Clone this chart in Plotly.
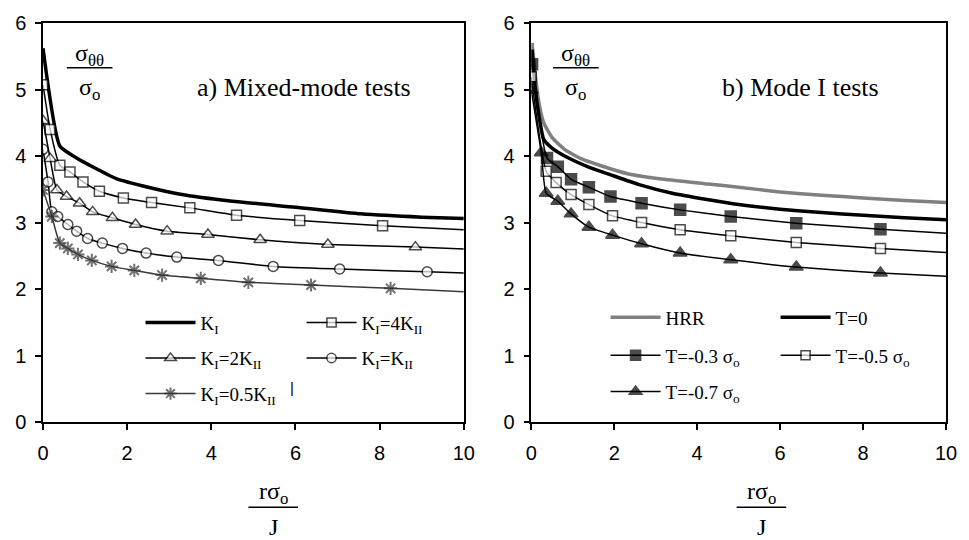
import plotly.graph_objects as go

# ---------------- data: panel a) mixed-mode tests ----------------
ki_x = [0, 0.4, 0.8, 1.2, 1.74, 2.5, 3.23, 4.5, 6, 7.55, 9, 10]
ki_y = [5.62, 4.15, 3.97, 3.83, 3.66, 3.53, 3.43, 3.32, 3.23, 3.13, 3.08, 3.06]

k4_x = [0, 0.17, 0.4, 0.64, 0.95, 1.34, 1.91, 2.58, 3.49, 4.6, 6.1, 8.07]
k4_y = [5.07, 4.4, 3.86, 3.76, 3.61, 3.47, 3.37, 3.30, 3.22, 3.11, 3.03, 2.95]
k4_end = 2.89

k2_x = [0, 0.17, 0.33, 0.56, 0.87, 1.18, 1.65, 2.2, 2.95, 3.92, 5.16, 6.77, 8.85]
k2_y = [4.53, 3.96, 3.49, 3.39, 3.29, 3.16, 3.07, 2.97, 2.87, 2.82, 2.74, 2.67, 2.63]
k2_end = 2.6

k1_x = [0, 0.12, 0.21, 0.35, 0.59, 0.8, 1.06, 1.41, 1.89, 2.45, 3.18, 4.17, 5.47, 7.05, 9.13]
k1_y = [4.1, 3.61, 3.16, 3.09, 2.97, 2.87, 2.76, 2.69, 2.61, 2.54, 2.48, 2.43, 2.34, 2.30, 2.26]
k1_end = 2.24

k05_x = [0, 0.21, 0.4, 0.59, 0.83, 1.16, 1.63, 2.17, 2.83, 3.75, 4.88, 6.37, 8.26]
k05_y = [3.49, 3.09, 2.69, 2.61, 2.52, 2.43, 2.34, 2.28, 2.21, 2.16, 2.10, 2.06, 2.01]
k05_end = 1.96

# ---------------- data: panel b) mode I tests ----------------
hrr_x = [0.02, 0.1, 0.2, 0.3, 0.5, 0.8, 1.2, 1.7, 2.35, 3.2, 4.26, 5, 6, 7, 8, 9, 10]
hrr_y = [5.7, 5.2, 4.75, 4.5, 4.28, 4.1, 3.96, 3.85, 3.73, 3.65, 3.58, 3.53, 3.46, 3.41, 3.37, 3.33, 3.3]

t0_x = [0.02, 0.1, 0.2, 0.3, 0.5, 0.9, 1.4, 1.9, 2.6, 3.4, 4.2, 5, 6, 7, 8, 9, 10]
t0_y = [5.6, 5.0, 4.55, 4.25, 4.12, 3.97, 3.83, 3.72, 3.57, 3.44, 3.35, 3.27, 3.2, 3.15, 3.11, 3.07, 3.04]

t03_x = [0.02, 0.38, 0.64, 0.96, 1.39, 1.91, 2.66, 3.59, 4.81, 6.39, 8.42]
t03_y = [5.38, 3.97, 3.84, 3.65, 3.53, 3.39, 3.29, 3.19, 3.09, 2.99, 2.9]
t03_end = 2.84

t05_x = [0, 0.36, 0.6, 0.96, 1.39, 1.96, 2.66, 3.59, 4.81, 6.39, 8.42]
t05_y = [5.19, 3.77, 3.6, 3.42, 3.27, 3.1, 3.0, 2.89, 2.8, 2.7, 2.61]
t05_end = 2.55

t07_x = [0, 0.24, 0.36, 0.64, 0.96, 1.39, 1.96, 2.66, 3.59, 4.81, 6.39, 8.42]
t07_y = [4.99, 4.05, 3.44, 3.32, 3.13, 2.93, 2.81, 2.68, 2.54, 2.44, 2.33, 2.24]
t07_end = 2.19

x_ticks = [0, 2, 4, 6, 8, 10]
y_ticks = [0, 1, 2, 3, 4, 5, 6]
X_END = 10

SERIF = "Liberation Serif, Times New Roman, serif"
SANS = "Liberation Sans, Arial, sans-serif"

fig = go.Figure()


def marked(xs, ys, end, name, sym, fill, lcol, axis, leg, msize=10, mlw=1.5, lw=1.5):
    # markers on the read points, plain line continuing to the axis end
    px_ = list(xs) + [X_END]
    py_ = list(ys) + [end]
    sizes = [msize] * len(xs) + [0]
    fig.add_trace(go.Scatter(
        x=px_, y=py_, mode="lines+markers", name=name,
        line=dict(color=lcol, width=lw, shape="spline", smoothing=0.5),
        marker=dict(symbol=sym, size=sizes, color=fill,
                    line=dict(color=lcol, width=mlw)),
        xaxis=axis[0], yaxis=axis[1], legend=leg))


def plain(xs, ys, name, col, width, axis, leg):
    fig.add_trace(go.Scatter(
        x=xs, y=ys, mode="lines", name=name,
        line=dict(color=col, width=width, shape="spline", smoothing=0.5),
        xaxis=axis[0], yaxis=axis[1], legend=leg))


A = ("x", "y")
B = ("x2", "y2")

plain(ki_x, ki_y, "K<sub>I</sub>", "black", 3.5, A, "legend")
marked(k4_x, k4_y, k4_end, "K<sub>I</sub>=4K<sub>II</sub>", "square", "white", "black", A, "legend")
marked(k2_x, k2_y, k2_end, "K<sub>I</sub>=2K<sub>II</sub>", "triangle-up", "white", "black", A, "legend2", msize=11)
marked(k1_x, k1_y, k1_end, "K<sub>I</sub>=K<sub>II</sub>", "circle", "white", "black", A, "legend2")
marked(k05_x, k05_y, k05_end, "K<sub>I</sub>=0.5K<sub>II</sub>", "asterisk-open", "#333333", "#3a3a3a", A, "legend3", msize=11, mlw=2)

plain(hrr_x, hrr_y, "HRR", "#808080", 3.5, B, "legend4")
plain(t0_x, t0_y, "T=0", "black", 3.5, B, "legend4")
marked(t03_x, t03_y, t03_end, "T=-0.3 σ<sub>o</sub>", "square", "black", "black", B, "legend5", msize=11)
marked(t05_x, t05_y, t05_end, "T=-0.5 σ<sub>o</sub>", "square", "white", "black", B, "legend5")
marked(t07_x, t07_y, t07_end, "T=-0.7 σ<sub>o</sub>", "triangle-up", "black", "black", B, "legend6", msize=12)

axis_common = dict(showline=True, linecolor="black", linewidth=1.5, mirror=True,
                   ticks="outside", ticklen=6, tickwidth=1.5, tickcolor="black",
                   showgrid=False, zeroline=False,
                   tickfont=dict(family=SANS, size=20, color="black"))

fig.update_layout(
    width=969, height=540,
    margin=dict(l=43, r=16, t=20, b=118),
    paper_bgcolor="white", plot_bgcolor="white",
    xaxis=dict(domain=[0, 0.466], range=[0, 10], tickvals=x_ticks, ticklabelstandoff=6, **axis_common),
    yaxis=dict(domain=[0, 1], range=[0, 6], tickvals=y_ticks, ticklabelstandoff=5, **axis_common),
    xaxis2=dict(domain=[0.5407, 1], range=[0, 10], tickvals=x_ticks, anchor="y2", ticklabelstandoff=6, **axis_common),
    yaxis2=dict(domain=[0, 1], range=[0, 6], tickvals=y_ticks, anchor="x2", ticklabelstandoff=5, **axis_common),
)

leg_common = dict(orientation="h", xanchor="left", yanchor="middle",
                  bgcolor="rgba(0,0,0,0)", borderwidth=0, itemwidth=50,
                  font=dict(family=SERIF, size=19, color="black"),
                  entrywidthmode="pixels")
fig.update_layout(
    legend=dict(x=0.108, y=0.249, entrywidth=96, **leg_common),
    legend2=dict(x=0.108, y=0.160, entrywidth=96, **leg_common),
    legend3=dict(x=0.108, y=0.071, entrywidth=96, **leg_common),
    legend4=dict(x=0.623, y=0.262, entrywidth=105, **leg_common),
    legend5=dict(x=0.623, y=0.167, entrywidth=105, **leg_common),
    legend6=dict(x=0.623, y=0.076, entrywidth=105, **leg_common),
)

ann = []
shapes = []

W = 910.0
H = 402.0


def px(xp):
    return (xp - 43) / W


def py(yp):
    return (422 - yp) / H


def frac(xc, y_num, y_den, y_bar, half, num, den, size):
    ann.append(dict(xref="paper", yref="paper", x=xc, y=y_num, text=num, showarrow=False,
                    font=dict(family=SERIF, size=size, color="black"), xanchor="center", yanchor="middle"))
    ann.append(dict(xref="paper", yref="paper", x=xc, y=y_den, text=den, showarrow=False,
                    font=dict(family=SERIF, size=size, color="black"), xanchor="center", yanchor="middle"))
    shapes.append(dict(type="line", xref="paper", yref="paper", x0=xc - half, x1=xc + half,
                       y0=y_bar, y1=y_bar, line=dict(color="black", width=1.5)))


frac(px(90), py(52), py(87), py(65), 23 / W, "σ<sub>θθ</sub>", "σ<sub>o</sub>", 24)
frac(px(580), py(52), py(87), py(65), 23 / W, "σ<sub>θθ</sub>", "σ<sub>o</sub>", 24)
frac(px(275), py(494), py(528), py(508), 25 / W, "rσ<sub>o</sub>", "J", 24)
frac(px(767), py(494), py(528), py(508), 25 / W, "rσ<sub>o</sub>", "J", 24)

ann.append(dict(xref="paper", yref="paper", x=px(306), y=py(85), text="a) Mixed-mode tests",
                showarrow=False, font=dict(family=SERIF, size=26, color="black"),
                xanchor="center", yanchor="middle"))
ann.append(dict(xref="paper", yref="paper", x=px(806), y=py(85), text="b) Mode I tests",
                showarrow=False, font=dict(family=SERIF, size=26, color="black"),
                xanchor="center", yanchor="middle"))
# small stray mark printed after the last left-hand legend entry
ann.append(dict(xref="paper", yref="paper", x=px(294), y=py(387), text="|",
                showarrow=False, font=dict(family=SANS, size=15, color="black"),
                xanchor="center", yanchor="middle"))

fig.update_layout(annotations=ann, shapes=shapes)

# remove the default 8px page margin so the figure fills the window exactly
fig.write_html("out.html", config={"displayModeBar": False},
               post_script="document.body.style.margin='0';document.body.style.overflow='hidden';")
